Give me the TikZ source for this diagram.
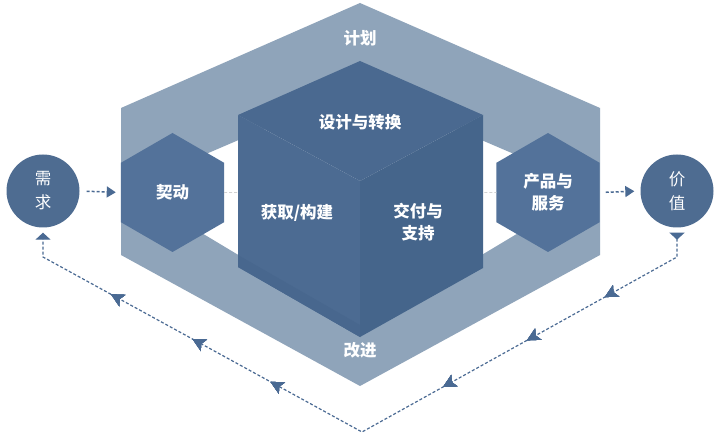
\documentclass[tikz,border=0pt]{standalone}
\usepackage{fontspec}
\newfontfamily\cjk{Noto Sans CJK SC}
\usetikzlibrary{arrows.meta,decorations.markings,shapes.geometric}
\definecolor{framec}{HTML}{8FA4BA}
\definecolor{topc}{HTML}{4A6990}
\definecolor{leftc}{HTML}{4C6B92}
\definecolor{leftd}{HTML}{48678E}
\definecolor{rightc}{HTML}{45658B}
\definecolor{hexc}{HTML}{53729A}
\definecolor{circc}{HTML}{4E6C91}
\definecolor{linec}{HTML}{4A6A93}
\tikzset{
  lbl/.style={text=white, font=\cjk\bfseries\fontsize{16.5}{22}\selectfont, align=center, inner sep=0pt},
  circlbl/.style={text=white, font=\cjk\fontsize{16.5}{24}\selectfont, align=center},
  hexnode/.style={regular polygon, regular polygon sides=6, shape border rotate=30, minimum size=119pt, inner sep=0pt, fill=hexc, lbl},
  circnode/.style={circle, minimum size=73pt, inner sep=0pt, fill=circc, circlbl},
  flowarrow/.style={draw=linec, line width=1.5pt, dash pattern=on 3pt off 2pt, -{Triangle[length=9pt,width=11pt]}},
  guide/.style={draw=gray!35, line width=0.8pt, dash pattern=on 3pt off 2pt},
  midtip/.style={decoration={markings, mark=at position #1 with {\arrow[linec]{Stealth[length=13pt,width=13pt,inset=3pt]}}}, postaction={decorate}},
  loopline/.style={draw=linec, line width=1.2pt, dash pattern=on 3pt off 2pt,
    {Triangle[reversed,length=7pt,width=15pt]}-{Triangle[length=7pt,width=15pt]},
    midtip=107pt, midtip=196pt, midtip=292pt, midtip=489pt, midtip=578pt, midtip=671pt}
}
\begin{document}
\begin{tikzpicture}[x=1pt,y=-1pt]
\fill[white] (0,0) rectangle (720,438);
\useasboundingbox (0,0) rectangle (720,438);
% hexagonal frame
\fill[framec, even odd rule]
  (360,3) -- (600,108) -- (600,255) -- (360,386) -- (121,255) -- (121,108) -- cycle
  (360,88) -- (535,163) -- (535,223) -- (360,328) -- (185,223) -- (185,163) -- cycle;
\node[lbl] (plan) at (360,38) {计划};
\node[lbl] (improve) at (360,350) {改进};
% side hexagons
\node[hexnode] (qd) at (172.5,192.5) {契动};
\node[hexnode] (cp) at (548,192.5) {产品与\\服务};
\draw[guide] (qd.east) -- (cp.west);
% cube
\fill[topc] (360,61) -- (483,115) -- (360,181) -- (238,115) -- cycle;
\fill[leftc] (238,115) -- (360,181) -- (360,337) -- (238,267) -- cycle;
\fill[leftd] (238,255) -- (360,325) -- (360,337) -- (238,267) -- cycle;
\fill[rightc] (360,181) -- (483,115) -- (483,268) -- (360,337) -- cycle;
\node[lbl] (design) at (360,122) {设计与转换};
\node[lbl] (build) at (297,213) {获取/构建};
\node[lbl] (deliver) at (418,222) {交付与\\支持};
% circles
\node[circnode] (need) at (43,191) {需\\求};
\node[circnode] (val) at (677,191) {价\\值};
% flow arrows
\draw[flowarrow, shorten <=7pt, shorten >=5pt] (need.east) -- (qd.west);
\draw[flowarrow, shorten <=6pt, shorten >=6pt] (cp.east) -- (val.west);
% feedback loop
\coordinate (r1) at (677,257);
\coordinate (bot) at (362,432);
\coordinate (l1) at (43,257);
\draw[loopline] ([yshift=-5pt]val.south) -- (r1) -- (bot) -- (l1) -- ([yshift=-5pt]need.south);
\end{tikzpicture}
\end{document}
